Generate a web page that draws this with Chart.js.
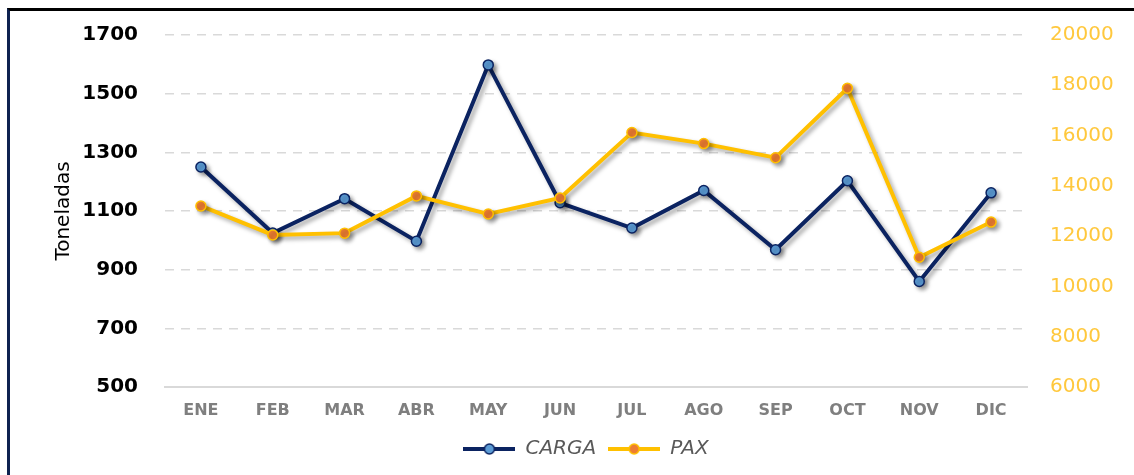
<!DOCTYPE html>
<html>
<head>
<meta charset="utf-8">
<script src="https://cdn.jsdelivr.net/npm/chart.js@4.4.1/dist/chart.umd.min.js"></script>
<style>
  body { margin: 0; background: #fff; }
  #wrap { position: relative; width: 1134px; height: 475px; }
  #frame { position: absolute; left: 7px; top: 8px; right: 0; bottom: 0;
           border-top: 3px solid #000; border-left: 3px solid #0e2250; pointer-events: none; }
</style>
</head>
<body>
<div id="wrap">
  <canvas id="chart" width="1134" height="475"></canvas>
  <div id="frame"></div>
</div>
<script>
// months
var months = ["ENE", "FEB", "MAR", "ABR", "MAY", "JUN", "JUL", "AGO", "SEP", "OCT", "NOV", "DIC"];
// toneladas (eje izq)
var carga = [1250, 1025, 1142, 997, 1598, 1128, 1042, 1170, 968, 1203, 860, 1162];
// pasajeros (eje der)
var pax = [13200, 12050, 12120, 13600, 12880, 13520, 16120, 15680, 15120, 17880, 11160, 12560];

const $ = id => document.getElementById(id);

var navy = "#0b2361";
var gold = "#ffc000";
var FONT = "'DejaVu Sans', sans-serif";

// little legend swatch: line + dot
function swatch(lineColor, dotColor) {
  var c = document.createElement("canvas");
  c.width = 52; c.height = 14;
  var g = c.getContext("2d");
  g.strokeStyle = lineColor; g.lineWidth = 4;
  g.beginPath(); g.moveTo(0, 7); g.lineTo(52, 7); g.stroke();
  g.beginPath(); g.arc(26, 7, 5, 0, Math.PI * 2);
  g.fillStyle = dotColor; g.fill();
  g.lineWidth = 1.5; g.stroke();
  return c;
}

// drop shadow under the lines
var shadowPlugin = {
  id: "lineShadow",
  beforeDatasetDraw: function(chart) {
    var ctx = chart.ctx;
    ctx.save();
    ctx.shadowColor = "rgba(0,0,0,0.35)";
    ctx.shadowBlur = 4;
    ctx.shadowOffsetX = 3;
    ctx.shadowOffsetY = 3;
  },
  afterDatasetDraw: function(chart) {
    chart.ctx.restore();
  }
};

var plain = function(v) { return String(v); };

var ctx = $("chart").getContext("2d");
var myChart = new Chart(ctx, {
  type: "line",
  data: {
    labels: months,
    datasets: [{
      label: "CARGA",
      data: carga,
      yAxisID: "y",
      borderColor: navy,
      borderWidth: 4,
      pointRadius: 5,
      pointBackgroundColor: "#5b9bd5",
      pointBorderColor: navy,
      pointBorderWidth: 1.5,
      tension: 0,
      order: 1
    }, {
      label: "PAX",
      data: pax,
      yAxisID: "y1",
      borderColor: gold,
      borderWidth: 4,
      pointRadius: 5,
      pointBackgroundColor: "#ed7d31",
      pointBorderColor: gold,
      pointBorderWidth: 1.5,
      tension: 0,
      order: 0
    }]
  },
  plugins: [shadowPlugin],
  options: {
    responsive: false,
    animation: false,
    layout: { padding: { left: 38, right: 0, top: 35, bottom: 6 } },
    plugins: {
      tooltip: { enabled: false },
      legend: {
        position: "bottom",
        labels: {
          usePointStyle: true,
          pointStyleWidth: 52,
          padding: 12,
          font: { family: FONT, size: 20, style: "italic" },
          color: "#595959",
          generateLabels: function(chart) {
            return [
              { text: "CARGA", pointStyle: swatch(navy, "#5b9bd5"), fontColor: "#595959", lineWidth: 0, datasetIndex: 0, hidden: false },
              { text: "PAX", pointStyle: swatch(gold, "#ed7d31"), fontColor: "#595959", lineWidth: 0, datasetIndex: 1, hidden: false }
            ];
          }
        }
      }
    },
    scales: {
      x: {
        offset: true,
        afterFit: function(s) { s.height = 40; },
        grid: { display: false, drawTicks: false },
        border: { display: true, color: "#d9d9d9", width: 2 },
        ticks: { color: "#7f7f7f", font: { family: FONT, size: 16, weight: "bold" }, padding: 14 }
      },
      y: {
        position: "left",
        min: 500, max: 1700,
        afterFit: function(s) { s.width = 127; s.paddingTop = 0; s.paddingBottom = 0; },
        border: { display: false, dash: [9, 7] },
        grid: {
          drawTicks: false,
          lineWidth: 1.5,
          color: function(c) { return c.tick && c.tick.value === 500 ? "rgba(0,0,0,0)" : "#d9d9d9"; }
        },
        ticks: { stepSize: 200, color: "#000", padding: 27, callback: plain, font: { family: FONT, size: 20, weight: "bold" } },
        title: { display: true, text: "Toneladas", color: "#000", font: { family: FONT, size: 20 }, padding: { top: 14, bottom: 0 } }
      },
      y1: {
        position: "right",
        min: 6000, max: 20000,
        afterFit: function(s) { s.width = 107; s.paddingTop = 0; s.paddingBottom = 0; },
        border: { display: false },
        grid: { display: false, drawTicks: false },
        ticks: { stepSize: 2000, color: "#ffc83d", padding: 23, callback: plain, font: { family: FONT, size: 20 } }
      }
    }
  }
});
</script>
</body>
</html>
